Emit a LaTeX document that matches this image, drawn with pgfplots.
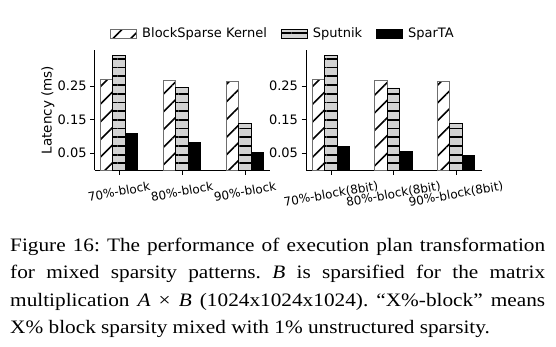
\documentclass[border=0pt]{standalone}
\usepackage{pgfplots}
\pgfplotsset{compat=1.18}
\usepackage{fontspec}
\setmainfont{DejaVu Sans}
\newfontfamily\capfont[FakeStretch=1.12]{Liberation Serif}
\usetikzlibrary{patterns.meta}
\definecolor{edgegray}{HTML}{6E6E6E}
\definecolor{sputgray}{HTML}{D3D3D3}

\tikzset{
  bsp/.style={preaction={fill=white}, pattern={Lines[angle=45,distance=12.5pt,line width=1.6pt]}, pattern color=black, draw=edgegray, line width=0.9pt},
  spu/.style={preaction={fill=sputgray}, pattern={Lines[angle=0,distance=8.7pt,line width=1.8pt]}, pattern color=black, draw=black, line width=0.9pt},
  spa/.style={fill=black, draw=black, line width=0.9pt},
}

\pgfplotsset{
  mylegend/.style={legend image code/.code={\draw[##1] (0pt,-4.5pt) rectangle (25.6pt,4.5pt);}},
  mystyle/.style={
    scale only axis, height=120pt,
    ymin=0, ymax=0.357,
    axis x line*=bottom, axis y line*=left,
    axis line style={-, line width=0.8pt, black},
    tick style={black, line width=0.8pt},
    major tick length=4.5pt,
    tick align=outside,
    ytick={0.05,0.15,0.25}, yticklabels={0.05,0.15,0.25},
    yticklabel style={font=\fontsize{13}{15}\selectfont},
    xtick={0,1,2},
    clip=false,
  },
}

\begin{document}
\begin{tikzpicture}[x=1pt,y=1pt]
\useasboundingbox (0,0) rectangle (556,-346);

\begin{axis}[mystyle,
  at={(94.7pt,-170pt)}, anchor=south west, width=175.3pt,
  xmin=-0.386, xmax=2.397,
  xticklabels={70\%-block,80\%-block,90\%-block},
  xticklabel style={yshift=-17pt, rotate=10, anchor=center, font=\fontsize{12}{14}\selectfont},
  ylabel={Latency (ms)},
  ylabel style={at={(axis description cs:-0.2664,0.5)}, anchor=center, font=\fontsize{13.5}{15}\selectfont},
  legend columns=3,
  legend style={at={(axis description cs:1.0685,1.135)}, anchor=center, draw=none, fill=none, inner sep=0pt,
    nodes={inner sep=0pt},
    font=\fontsize{13}{15}\selectfont,
    /tikz/every odd column/.append style={column sep=5.5pt},
    /tikz/every even column/.append style={column sep=14pt}},
]
\addplot[ybar, bar width=0.2, bar shift=-0.2, bsp, mylegend] coordinates {(0,0.268) (1,0.266) (2,0.264)};
\addplot[ybar, bar width=0.2, bar shift=0, spu, mylegend] coordinates {(0,0.340) (1,0.245) (2,0.138)};
\addplot[ybar, bar width=0.2, bar shift=0.2, spa, mylegend] coordinates {(0,0.108) (1,0.082) (2,0.052)};
\legend{BlockSparse Kernel, Sputnik, SparTA}
\end{axis}

\begin{axis}[mystyle,
  at={(306pt,-170pt)}, anchor=south west, width=175.7pt,
  xmin=-0.4, xmax=2.41,
  xticklabels={70\%-block(8bit),80\%-block(8bit),90\%-block(8bit)},
  xticklabel style={yshift=-20pt, rotate=10, anchor=center, font=\fontsize{12}{14}\selectfont},
]
\addplot[ybar, bar width=0.2, bar shift=-0.2, bsp] coordinates {(0,0.268) (1,0.266) (2,0.264)};
\addplot[ybar, bar width=0.2, bar shift=0, spu] coordinates {(0,0.340) (1,0.244) (2,0.138)};
\addplot[ybar, bar width=0.2, bar shift=0.2, spa] coordinates {(0,0.069) (1,0.055) (2,0.042)};
\end{axis}

\node[anchor=base west, inner sep=0pt] at (10,-251.7) {\parbox[t]{535pt}{\capfont\fontsize{19}{27.2}\selectfont
\frenchspacing\hyphenpenalty=10000 \exhyphenpenalty=10000
Figure 16: The performance of execution plan transformation\linebreak
for mixed sparsity patterns. {\itshape B} is sparsified for the matrix\linebreak
multiplication {\itshape A}~×~{\itshape B} (1024x1024x1024). “X\%-block” means\linebreak
X\% block sparsity mixed with 1\% unstructured sparsity.}};
\end{tikzpicture}
\end{document}
